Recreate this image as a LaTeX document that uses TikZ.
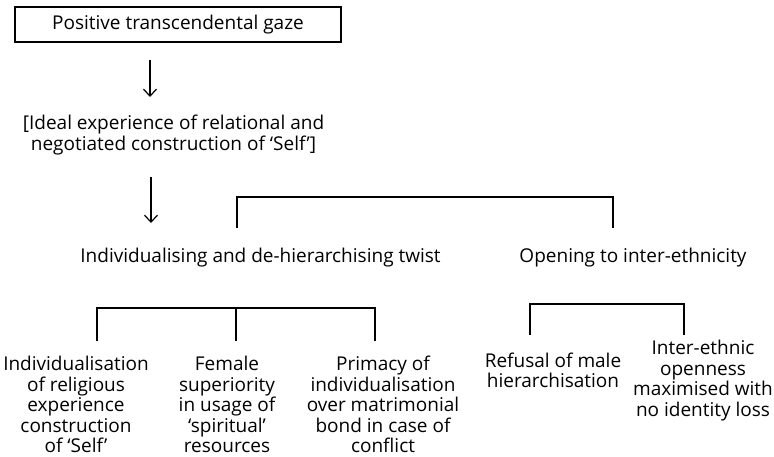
\documentclass[tikz,border=0pt]{standalone}
\usepackage{fontspec}
\setmainfont{Open Sans}
\usetikzlibrary{arrows.meta}
\begin{document}
\begin{tikzpicture}[x=1pt,y=-1pt,
  lbl/.style={inner sep=0pt,align=center,font=\fontsize{19}{20.6}\selectfont},
  boxed/.style={lbl,draw,line width=1.2pt,minimum width=326pt,minimum height=35pt},
  conn/.style={line width=1.2pt},
  arr/.style={conn,-{Straight Barb[length=7pt,width=13pt,line width=1.2pt]}}]
\useasboundingbox (0,0) rectangle (774,456);
% nodes
\node[boxed] (top) at (178,24.5) {Positive transcendental gaze};
\node[lbl] (ideal) at (173.5,135) {[Ideal experience of relational and\\negotiated construction of ‘Self’]};
\node[lbl] (twist) at (260.5,258) {Individualising and de-hierarchising twist};
\node[lbl] (open) at (633,258) {Opening to inter-ethnicity};
\node[lbl] (c1) at (76,404.5) {Individualisation\\of religious\\experience\\construction\\of ‘Self’};
\node[lbl] (c2) at (227,404.5) {Female\\superiority\\in usage of\\‘spiritual’\\resources};
\node[lbl] (c3) at (383,404.5) {Primacy of\\individualisation\\over matrimonial\\bond in case of\\conflict};
\node[lbl] (r1) at (553,370.5) {Refusal of male\\hierarchisation};
\node[lbl] (r2) at (703,380.5) {Inter-ethnic\\openness\\maximised with\\no identity loss};
% coordinates for connectors
\coordinate (a1s) at (150,60);
\coordinate (a1e) at (150,97);
\coordinate (a2s) at (151,177);
\coordinate (a2e) at (151,223);
\coordinate (b1l) at (237,228);
\coordinate (b1r) at (613,228);
\coordinate (b2l) at (97,341);
\coordinate (b2m) at (236,341);
\coordinate (b2r) at (375,341);
\coordinate (b3l) at (530,335);
\coordinate (b3r) at (684,335);
% connectors
\draw[arr] (a1s) -- (a1e);
\draw[arr] (a2s) -- (a2e);
\draw[conn] (b1l) -- ++(0,-31) -| (b1r);
\draw[conn] (b2l) -- ++(0,-33) -| (b2r);
\draw[conn] (b2m) -- ++(0,-33);
\draw[conn] (b3l) -- ++(0,-31) -| (b3r);
\end{tikzpicture}
\end{document}
